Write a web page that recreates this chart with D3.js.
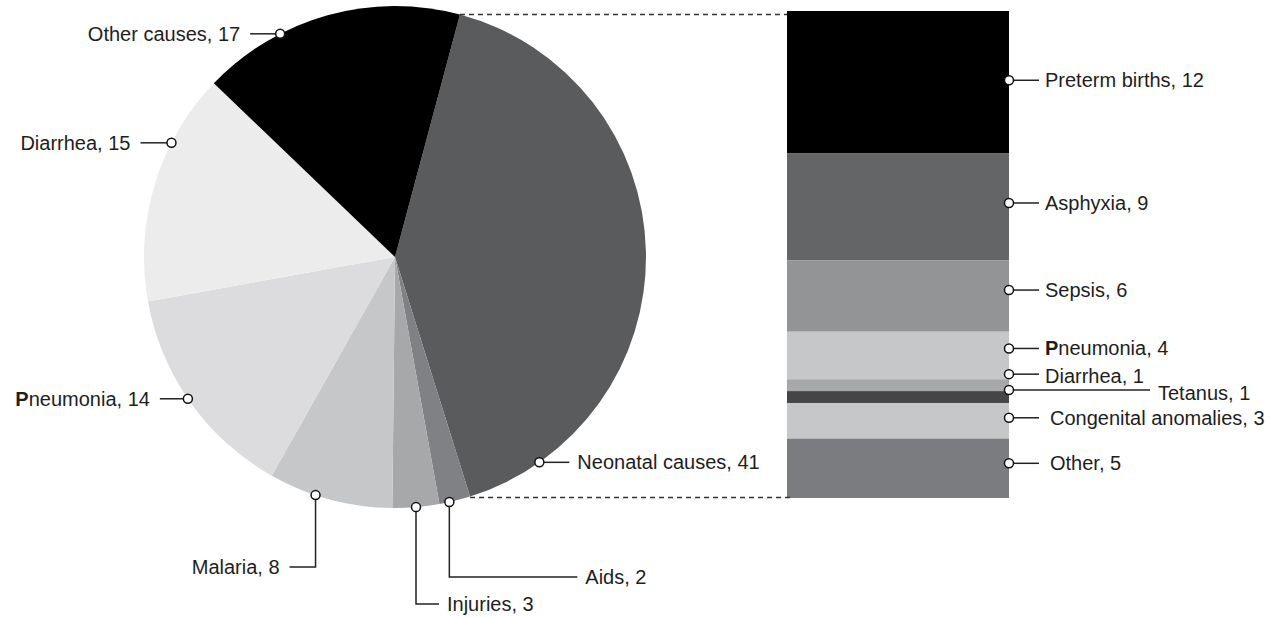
<!DOCTYPE html>
<html><head><meta charset="utf-8">
<script src="https://cdn.jsdelivr.net/npm/d3@7"></script>
<style>
html,body{margin:0;padding:0;background:#fff;}
text{font-family:"Liberation Sans",Arial,sans-serif;font-size:20px;fill:#1e1e1e;}
</style></head>
<body><svg id="chart" width="1276" height="617"></svg>
<script>
// ---- data ----
const pieCategories = ["Neonatal causes","Aids","Injuries","Malaria","Pneumonia","Diarrhea","Other causes"];
const pieValues     = [41, 2, 3, 8, 14, 15, 17];
const pieColors     = ["#5a5b5d","#808184","#a7a8aa","#c6c7c8","#dcdcde","#ececec","#000000"];

const barCategories = ["Preterm births","Asphyxia","Sepsis","Pneumonia","Diarrhea","Tetanus","Congenital anomalies","Other"];
const barValues     = [12, 9, 6, 4, 1, 1, 3, 5];
const barColors     = ["#000000","#646567","#939496","#c6c7c8","#a7a8aa","#454547","#c6c7c8","#7b7c7f"];

// ---- layout (label placement) ----
// t: fraction along slice, down: vertical leg, side: horizontal leg (negative = left)
const pieLabelLayout = [
  {t:0.88, down:0,  side:30},
  {t:0.68, down:75, side:128},
  {t:0.50, down:97, side:23},
  {t:0.62, down:72, side:-26},
  {t:0.52, down:0,  side:-28},
  {t:0.69, down:0,  side:-31},
  {t:0.31, down:0,  side:-30}
];
const barLabelLayout = [
  {dy:-2, len:30, gap:6},{dy:-4, len:30, gap:6},{dy:-6, len:30, gap:6},{dy:-7, len:30, gap:6},
  {dy:-11,len:30, gap:6},{dy:-7, len:141,gap:8},{dy:-3, len:30, gap:11},{dy:-5, len:30, gap:11}
];

const svg = d3.select("#chart");
const cx = 395, cy = 257, R = 251;
const deg = Math.PI/180;

const pie = d3.pie().value(d => d).sort(null).startAngle(15*deg).endAngle(375*deg);
const arcs = pie(pieValues);
const arc = d3.arc().innerRadius(0).outerRadius(R);

const gPie = svg.append("g").attr("transform", `translate(${cx},${cy})`);
gPie.selectAll("path").data(arcs).join("path")
  .attr("d", arc).attr("fill", (d,i) => pieColors[i]);

// ---- bar ----
const barX0 = 787, barX1 = 1009;
const total = d3.sum(barValues);
const y = d3.scaleLinear().domain([0, total]).range([11, 498]);
const cum = d3.cumsum(barValues);
const segs = barValues.map((v,i) => ({v, i, y0: i ? cum[i-1] : 0, y1: cum[i]}));
const gBar = svg.append("g");
gBar.selectAll("rect").data(segs).join("rect")
  .attr("x", barX0).attr("width", barX1 - barX0)
  .attr("y", d => y(d.y0)).attr("height", d => y(d.y1) - y(d.y0))
  .attr("fill", d => barColors[d.i]);

// ---- dashed connectors ----
const neo = arcs[0];
const pStart = [cx + R*Math.sin(neo.startAngle), cy - R*Math.cos(neo.startAngle)];
const pEnd   = [cx + R*Math.sin(neo.endAngle),   cy - R*Math.cos(neo.endAngle)];
svg.append("line").attr("x1", pStart[0]).attr("y1", pStart[1]).attr("x2", barX0).attr("y2", pStart[1])
  .attr("stroke","#333").attr("stroke-width",1.5).attr("stroke-dasharray","5,4");
svg.append("line").attr("x1", pEnd[0]).attr("y1", pEnd[1]+1).attr("x2", barX0+3).attr("y2", pEnd[1]+1)
  .attr("stroke","#333").attr("stroke-width",1.5).attr("stroke-dasharray","5,4");

function labelText(g, x, yy, anchor, name, val){
  const t = g.append("text").attr("x", x).attr("y", yy).attr("text-anchor", anchor);
  if (name.startsWith("Pneumonia")) {
    t.append("tspan").attr("font-weight","bold").text("P");
    t.append("tspan").text(name.slice(1) + ", " + val);
  } else t.text(name + ", " + val);
}

// ---- pie labels ----
const gLab = svg.append("g");
arcs.forEach((a, i) => {
  const L = pieLabelLayout[i];
  const ang = a.startAngle + L.t*(a.endAngle - a.startAngle);
  const px = cx + R*Math.sin(ang), py = cy - R*Math.cos(ang);
  const ex = px + L.side, ey = py + L.down;
  const path = d3.path();
  path.moveTo(px, py);
  if (L.down) path.lineTo(px, ey);
  path.lineTo(ex, ey);
  gLab.append("path").attr("d", path.toString()).attr("fill","none").attr("stroke","#222").attr("stroke-width",1.5);
  gLab.append("circle").attr("cx",px).attr("cy",py).attr("r",4.5).attr("fill","#fff").attr("stroke","#111").attr("stroke-width",1.5);
  const right = L.side > 0;
  labelText(gLab, ex + (right ? 8 : -10), ey + 7, right ? "start" : "end", pieCategories[i], pieValues[i]);
});

// ---- bar labels ----
segs.forEach((s, i) => {
  const L = barLabelLayout[i];
  const my = (y(s.y0) + y(s.y1))/2 + L.dy;
  gLab.append("line").attr("x1", barX1).attr("y1", my).attr("x2", barX1 + L.len).attr("y2", my)
    .attr("stroke","#222").attr("stroke-width",1.5);
  gLab.append("circle").attr("cx",barX1).attr("cy",my).attr("r",4.5).attr("fill","#fff").attr("stroke","#111").attr("stroke-width",1.5);
  const ty = i === 5 ? my + 10 : (i === 4 ? my + 9 : my + 7);
  labelText(gLab, barX1 + L.len + L.gap, ty, "start", barCategories[i], barValues[i]);
});
</script></body></html>
